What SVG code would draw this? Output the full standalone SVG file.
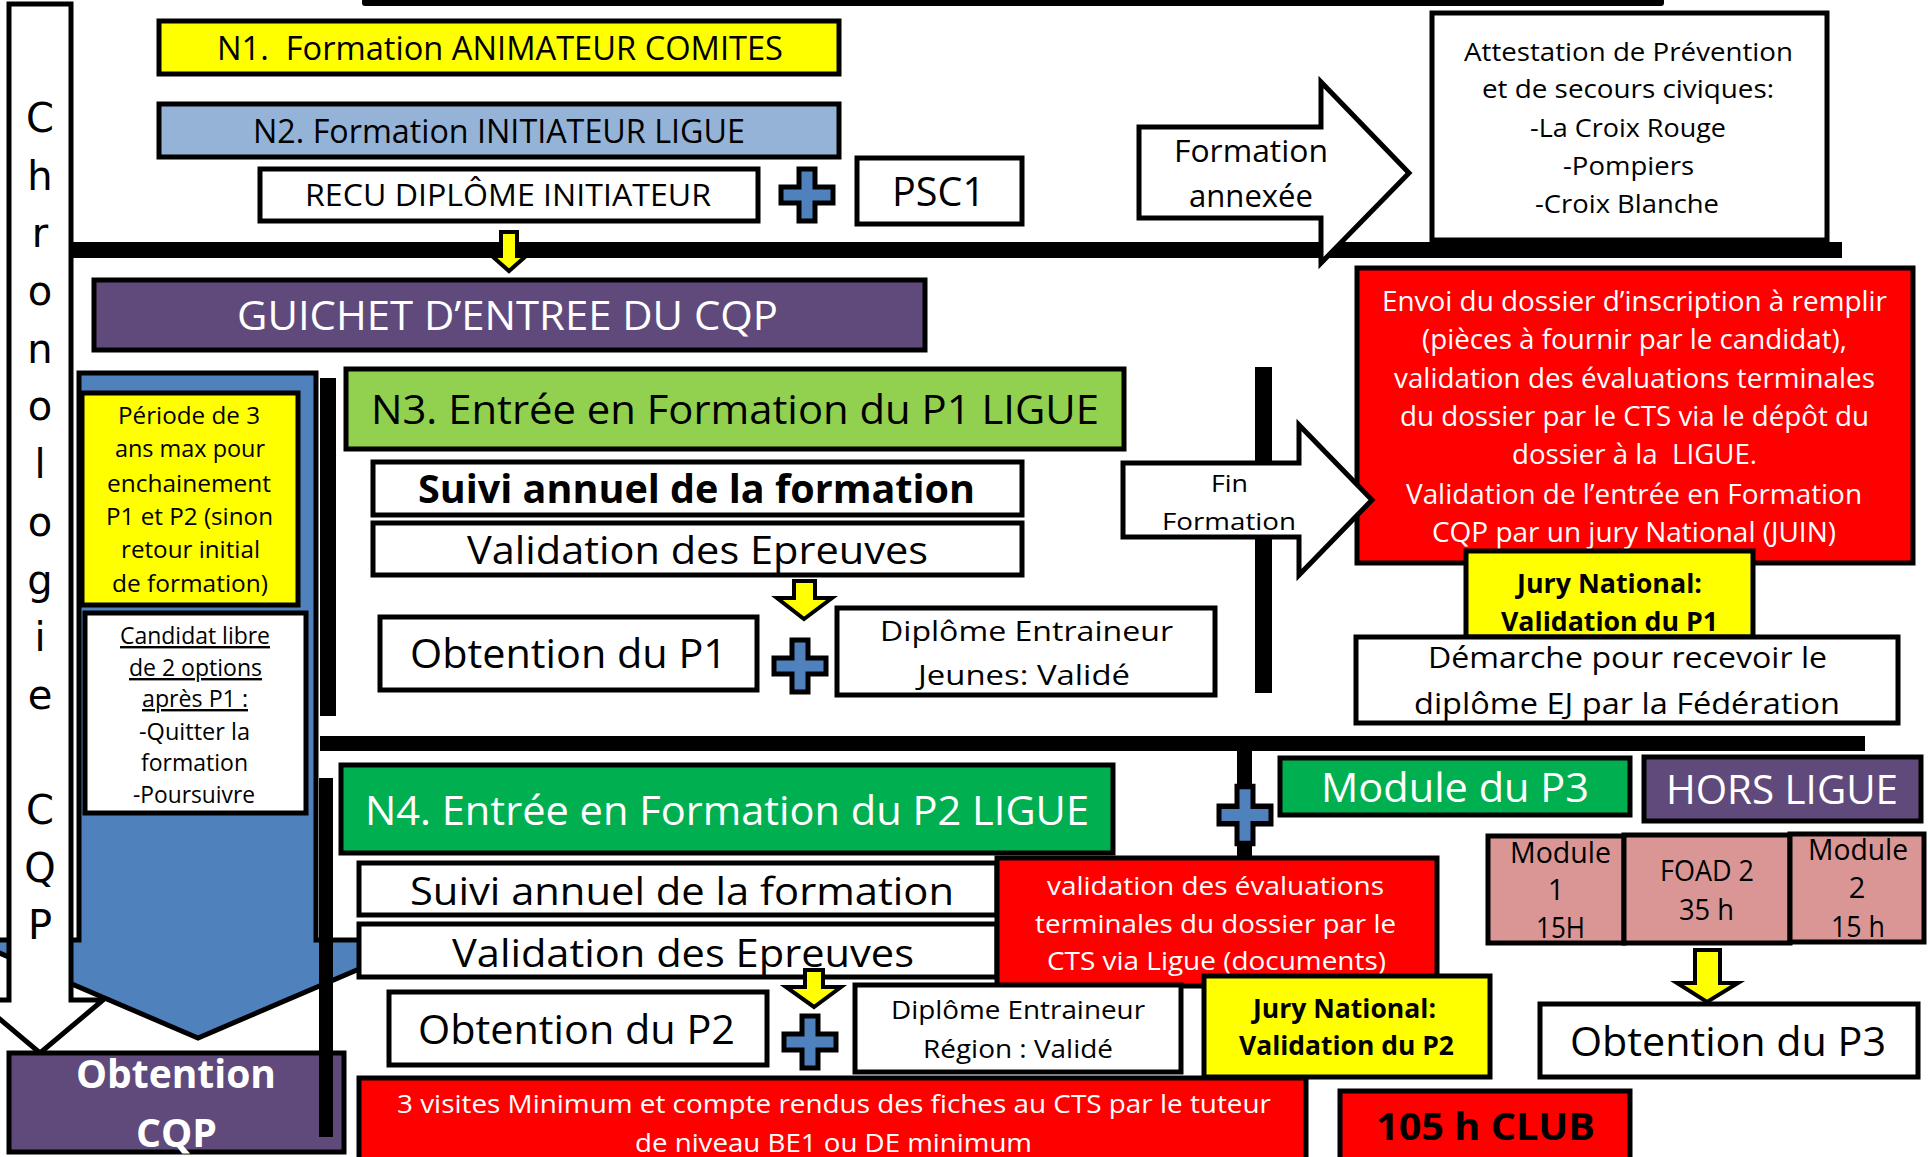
<svg xmlns="http://www.w3.org/2000/svg" width="1930" height="1157" viewBox="0 0 1930 1157">
<style>
text{font-family:"Open Sans","Liberation Sans",sans-serif;white-space:pre}
.b{stroke:#000;stroke-width:5}
.w{fill:#fff}
.y{fill:#FFFF00}
.lb{fill:#95B3D7}
.pu{fill:#604A7B}
.g1{fill:#92D050}
.g2{fill:#00B050}
.r{fill:#FF0000}
.pk{fill:#D99694}
.k{fill:#000}
.tw{fill:#fff}
.tk{fill:#000}
.bd{font-weight:bold}
.ch{font-family:"DejaVu Sans",sans-serif;font-size:40px;text-anchor:middle}
.u{text-decoration:underline}
</style>
<defs>
<path id="plus" d="M-8,-26 H8 V-8 H26 V8 H8 V26 H-8 V8 H-26 V-8 H-8 Z" fill="#4F81BD" stroke="#000" stroke-width="5"/>
</defs>

<g id="top-table">
<rect x="362" y="-6" width="1302" height="12" rx="3" class="k"/>
<g stroke="#000" stroke-width="1.5"><line x1="766" y1="0" x2="766" y2="6"/><line x1="1017" y1="0" x2="1017" y2="6"/><line x1="1156" y1="0" x2="1156" y2="6"/><line x1="1226" y1="0" x2="1226" y2="6"/><line x1="1341" y1="0" x2="1341" y2="6"/></g>
</g>

<g id="connectors">
<rect x="71" y="242" width="1771" height="16" class="k"/>
<rect x="320" y="378" width="16" height="338" class="k"/>
<rect x="1255" y="367" width="17" height="326" class="k"/>
<rect x="320" y="736" width="1545" height="15" class="k"/>
<rect x="1237" y="750" width="15" height="108" class="k"/>
<path d="M501,232 H517 V256 H526 L509,271 L492,256 H501 Z" class="y" stroke="#000" stroke-width="4"/>
<path d="M794,581 H815 V598 H832 L804,619 L777,598 H794 Z" class="y" stroke="#000" stroke-width="4"/>
<path d="M1695,950 H1720 V983 H1738 L1707,1002 L1677,983 H1695 Z" class="y" stroke="#000" stroke-width="4"/>
</g>

<g id="periode-arrow">
<path d="M79,373 H316 V940 H427 L198,1038 L-31,940 H79 Z" fill="#4F81BD" stroke="#000" stroke-width="5"/>
</g>

<g id="chronologie">
<path d="M9,4 H71 V1000 H103 L40,1053 L-23,1000 H9 Z" class="w b"/>
<text class="ch" x="40" y="132">C</text>
<text class="ch" x="40" y="190">h</text>
<text class="ch" x="40" y="247">r</text>
<text class="ch" x="40" y="305">o</text>
<text class="ch" x="40" y="363">n</text>
<text class="ch" x="40" y="420">o</text>
<text class="ch" x="40" y="478">l</text>
<text class="ch" x="40" y="536">o</text>
<text class="ch" x="40" y="594">g</text>
<text class="ch" x="40" y="651">i</text>
<text class="ch" x="40" y="709">e</text>
<text class="ch" x="40" y="824">C</text>
<text class="ch" x="40" y="882">Q</text>
<text class="ch" x="40" y="939">P</text>
</g>

<g id="n1">
<rect x="159" y="21" width="680" height="53" class="y b"/>
<text x="217" y="60" font-size="32" textLength="566" lengthAdjust="spacingAndGlyphs">N1.  Formation ANIMATEUR COMITES</text>
</g>
<g id="n2">
<rect x="159" y="104" width="680" height="53" class="lb b"/>
<text x="253" y="143" font-size="32" textLength="492" lengthAdjust="spacingAndGlyphs">N2. Formation INITIATEUR LIGUE</text>
</g>
<g id="recu">
<rect x="260" y="169" width="498" height="52" class="w b"/>
<text x="305" y="206" font-size="31" textLength="406" lengthAdjust="spacingAndGlyphs">RECU DIPLÔME INITIATEUR</text>
</g>
<g id="plus1"><use href="#plus" x="807" y="195"/></g>
<g id="psc1">
<rect x="857" y="158" width="165" height="66" class="w b"/>
<text x="892" y="206" font-size="40" textLength="93" lengthAdjust="spacingAndGlyphs">PSC1</text>
</g>
<g id="formation-annexee">
<path d="M1139,127 H1321 V82 L1409,173 L1321,263 V218 H1139 Z" class="w b"/>
<text x="1174" y="162" font-size="31" textLength="154" lengthAdjust="spacingAndGlyphs">Formation</text>
<text x="1189" y="207" font-size="31" textLength="124" lengthAdjust="spacingAndGlyphs">annexée</text>
</g>
<g id="attestation">
<rect x="1432" y="13" width="395" height="227" class="w b"/>
<g font-size="26">
<text x="1464" y="61" textLength="329" lengthAdjust="spacingAndGlyphs">Attestation de Prévention</text>
<text x="1482" y="98" textLength="292" lengthAdjust="spacingAndGlyphs">et de secours civiques:</text>
<text x="1530" y="137" textLength="196" lengthAdjust="spacingAndGlyphs">-La Croix Rouge</text>
<text x="1563" y="175" textLength="131" lengthAdjust="spacingAndGlyphs">-Pompiers</text>
<text x="1535" y="213" textLength="184" lengthAdjust="spacingAndGlyphs">-Croix Blanche</text>
</g>
</g>
<g id="guichet">
<rect x="94" y="280" width="831" height="70" class="pu b"/>
<text x="237" y="330" font-size="40" class="tw" textLength="541" lengthAdjust="spacingAndGlyphs">GUICHET D’ENTREE DU CQP</text>
</g>

<g id="envoi-dossier">
<rect x="1357" y="268" width="556" height="295" class="r b"/>
<g font-size="27" class="tw">
<text x="1382" y="311" textLength="505" lengthAdjust="spacingAndGlyphs">Envoi du dossier d’inscription à remplir</text>
<text x="1422" y="349" textLength="425" lengthAdjust="spacingAndGlyphs">(pièces à fournir par le candidat),</text>
<text x="1394" y="388" textLength="481" lengthAdjust="spacingAndGlyphs">validation des évaluations terminales</text>
<text x="1400" y="426" textLength="469" lengthAdjust="spacingAndGlyphs">du dossier par le CTS via le dépôt du</text>
<text x="1512" y="464" textLength="245" lengthAdjust="spacingAndGlyphs">dossier à la  LIGUE.</text>
<text x="1406" y="504" textLength="456" lengthAdjust="spacingAndGlyphs">Validation de l’entrée en Formation</text>
<text x="1432" y="542" textLength="404" lengthAdjust="spacingAndGlyphs">CQP par un jury National (JUIN)</text>
</g>
</g>
<g id="fin-formation">
<path d="M1123,463 H1299 V425 L1372,500 L1299,575 V537 H1123 Z" class="w b"/>
<text x="1211" y="492" font-size="24" textLength="37" lengthAdjust="spacingAndGlyphs">Fin</text>
<text x="1162" y="530" font-size="24" textLength="134" lengthAdjust="spacingAndGlyphs">Formation</text>
</g>
<g id="jury-p1">
<rect x="1466" y="551" width="287" height="86" class="y b"/>
<text x="1517" y="593" font-size="27" class="bd" textLength="185" lengthAdjust="spacingAndGlyphs">Jury National:</text>
<text x="1501" y="631" font-size="27" class="bd" textLength="217" lengthAdjust="spacingAndGlyphs">Validation du P1</text>
</g>
<g id="demarche">
<rect x="1356" y="637" width="542" height="86" class="w b"/>
<text x="1428" y="668" font-size="29" textLength="399" lengthAdjust="spacingAndGlyphs">Démarche pour recevoir le</text>
<text x="1414" y="714" font-size="29" textLength="426" lengthAdjust="spacingAndGlyphs">diplôme EJ par la Fédération</text>
</g>

<g id="periode">
<rect x="82" y="393" width="216" height="212" class="y b"/>
<g font-size="24">
<text x="118" y="424" textLength="142" lengthAdjust="spacingAndGlyphs">Période de 3</text>
<text x="115" y="457" textLength="150" lengthAdjust="spacingAndGlyphs">ans max pour</text>
<text x="107" y="492" textLength="164" lengthAdjust="spacingAndGlyphs">enchainement</text>
<text x="106" y="525" textLength="167" lengthAdjust="spacingAndGlyphs">P1 et P2 (sinon</text>
<text x="121" y="558" textLength="139" lengthAdjust="spacingAndGlyphs">retour initial</text>
<text x="112" y="592" textLength="156" lengthAdjust="spacingAndGlyphs">de formation)</text>
</g>
</g>
<g id="candidat">
<rect x="85" y="613" width="221" height="200" class="w b"/>
<g font-size="24">
<text x="120" y="644" class="u" textLength="150" lengthAdjust="spacingAndGlyphs">Candidat libre</text>
<text x="129" y="676" class="u" textLength="133" lengthAdjust="spacingAndGlyphs">de 2 options</text>
<text x="142" y="707" class="u" textLength="106" lengthAdjust="spacingAndGlyphs">après P1 :</text>
<text x="139" y="740" textLength="111" lengthAdjust="spacingAndGlyphs">-Quitter la</text>
<text x="141" y="771" textLength="107" lengthAdjust="spacingAndGlyphs">formation</text>
<text x="133" y="803" textLength="122" lengthAdjust="spacingAndGlyphs">-Poursuivre</text>
</g>
</g>

<g id="n3">
<rect x="346" y="369" width="778" height="80" class="g1 b"/>
<text x="371" y="424" font-size="41" textLength="728" lengthAdjust="spacingAndGlyphs">N3. Entrée en Formation du P1 LIGUE</text>
</g>
<g id="suivi-p1">
<rect x="373" y="462" width="649" height="53" class="w b"/>
<text x="418" y="503" font-size="40" class="bd" textLength="557" lengthAdjust="spacingAndGlyphs">Suivi annuel de la formation</text>
</g>
<g id="validation-p1">
<rect x="373" y="523" width="649" height="52" class="w b"/>
<text x="467" y="564" font-size="39" textLength="461" lengthAdjust="spacingAndGlyphs">Validation des Epreuves</text>
</g>
<g id="obtention-p1">
<rect x="380" y="617" width="377" height="73" class="w b"/>
<text x="410" y="668" font-size="40" textLength="317" lengthAdjust="spacingAndGlyphs">Obtention du P1</text>
</g>
<g id="plus2"><use href="#plus" x="800" y="666"/></g>
<g id="diplome-jeunes">
<rect x="837" y="608" width="378" height="87" class="w b"/>
<text x="880" y="641" font-size="28" textLength="293" lengthAdjust="spacingAndGlyphs">Diplôme Entraineur</text>
<text x="918" y="685" font-size="28" textLength="212" lengthAdjust="spacingAndGlyphs">Jeunes: Validé</text>
</g>

<g id="n4">
<rect x="341" y="765" width="772" height="88" class="g2 b"/>
<text x="365" y="825" font-size="41" class="tw" textLength="724" lengthAdjust="spacingAndGlyphs">N4. Entrée en Formation du P2 LIGUE</text>
</g>
<g id="suivi-p2">
<rect x="359" y="863" width="638" height="52" class="w b"/>
<text x="410" y="905" font-size="39" textLength="544" lengthAdjust="spacingAndGlyphs">Suivi annuel de la formation</text>
</g>
<g id="validation-p2">
<rect x="359" y="924" width="638" height="53" class="w b"/>
<text x="452" y="967" font-size="39" textLength="462" lengthAdjust="spacingAndGlyphs">Validation des Epreuves</text>
</g>
<g id="validation-cts">
<rect x="997" y="858" width="440" height="128" class="r b"/>
<g font-size="25" class="tw">
<text x="1047" y="895" textLength="337" lengthAdjust="spacingAndGlyphs">validation des évaluations</text>
<text x="1035" y="933" textLength="361" lengthAdjust="spacingAndGlyphs">terminales du dossier par le</text>
<text x="1047" y="970" textLength="339" lengthAdjust="spacingAndGlyphs">CTS via Ligue (documents)</text>
</g>
</g>
<g id="arrow-p2">
<path d="M805,970 H823 V987 H841 L814,1007 L786,987 H805 Z" class="y" stroke="#000" stroke-width="4"/>
</g>
<g id="obtention-p2">
<rect x="389" y="992" width="378" height="73" class="w b"/>
<text x="418" y="1044" font-size="40" textLength="317" lengthAdjust="spacingAndGlyphs">Obtention du P2</text>
</g>
<g id="plus3"><use href="#plus" x="810" y="1042"/></g>
<g id="diplome-region">
<rect x="855" y="985" width="326" height="87" class="w b"/>
<text x="891" y="1019" font-size="25" textLength="254" lengthAdjust="spacingAndGlyphs">Diplôme Entraineur</text>
<text x="923" y="1058" font-size="25" textLength="190" lengthAdjust="spacingAndGlyphs">Région : Validé</text>
</g>
<g id="jury-p2">
<rect x="1204" y="976" width="286" height="101" class="y b"/>
<text x="1253" y="1018" font-size="27" class="bd" textLength="183" lengthAdjust="spacingAndGlyphs">Jury National:</text>
<text x="1239" y="1055" font-size="27" class="bd" textLength="215" lengthAdjust="spacingAndGlyphs">Validation du P2</text>
</g>
<g id="visites">
<rect x="359" y="1078" width="947" height="100" class="r b"/>
<text x="397" y="1113" font-size="26" class="tw" textLength="874" lengthAdjust="spacingAndGlyphs">3 visites Minimum et compte rendus des fiches au CTS par le tuteur</text>
<text x="635" y="1152" font-size="26" class="tw" textLength="397" lengthAdjust="spacingAndGlyphs">de niveau BE1 ou DE minimum</text>
</g>

<g id="obtention-cqp">
<rect x="9" y="1053" width="335" height="99" class="pu b"/>
<text x="76" y="1088" font-size="40" class="tw bd" textLength="200" lengthAdjust="spacingAndGlyphs">Obtention</text>
<text x="136" y="1147" font-size="40" class="tw bd" textLength="81" lengthAdjust="spacingAndGlyphs">CQP</text>
</g>
<g id="bar-p2"><rect x="319" y="778" width="14" height="359" class="k"/></g>

<g id="plus4"><use href="#plus" transform="translate(1245,815) scale(1,1.1)"/></g>
<g id="module-p3">
<rect x="1280" y="758" width="350" height="57" class="g2 b"/>
<text x="1321" y="802" font-size="41" class="tw" textLength="268" lengthAdjust="spacingAndGlyphs">Module du P3</text>
</g>
<g id="hors-ligue">
<rect x="1644" y="757" width="277" height="64" class="pu b"/>
<text x="1666" y="804" font-size="41" class="tw" textLength="232" lengthAdjust="spacingAndGlyphs">HORS LIGUE</text>
</g>
<g id="module1">
<rect x="1488" y="836" width="136" height="107" class="pk b"/>
<text x="1510" y="863" font-size="29" textLength="101" lengthAdjust="spacingAndGlyphs">Module</text>
<text x="1556" y="900" font-size="29" text-anchor="middle">1</text>
<text x="1536" y="938" font-size="29" textLength="49" lengthAdjust="spacingAndGlyphs">15H</text>
</g>
<g id="foad2">
<rect x="1624" y="835" width="166" height="108" class="pk b"/>
<text x="1660" y="881" font-size="29" textLength="94" lengthAdjust="spacingAndGlyphs">FOAD 2</text>
<text x="1679" y="920" font-size="29" textLength="55" lengthAdjust="spacingAndGlyphs">35 h</text>
</g>
<g id="module2">
<rect x="1790" y="834" width="134" height="108" class="pk b"/>
<text x="1808" y="860" font-size="29" textLength="100" lengthAdjust="spacingAndGlyphs">Module</text>
<text x="1857" y="898" font-size="29" text-anchor="middle">2</text>
<text x="1831" y="937" font-size="29" textLength="54" lengthAdjust="spacingAndGlyphs">15 h</text>
</g>
<g id="obtention-p3">
<rect x="1540" y="1004" width="378" height="73" class="w b"/>
<text x="1570" y="1056" font-size="40" textLength="316" lengthAdjust="spacingAndGlyphs">Obtention du P3</text>
</g>
<g id="club">
<rect x="1340" y="1091" width="290" height="90" class="r b"/>
<text x="1376" y="1140" font-size="38" class="bd" textLength="219" lengthAdjust="spacingAndGlyphs">105 h CLUB</text>
</g>
</svg>
